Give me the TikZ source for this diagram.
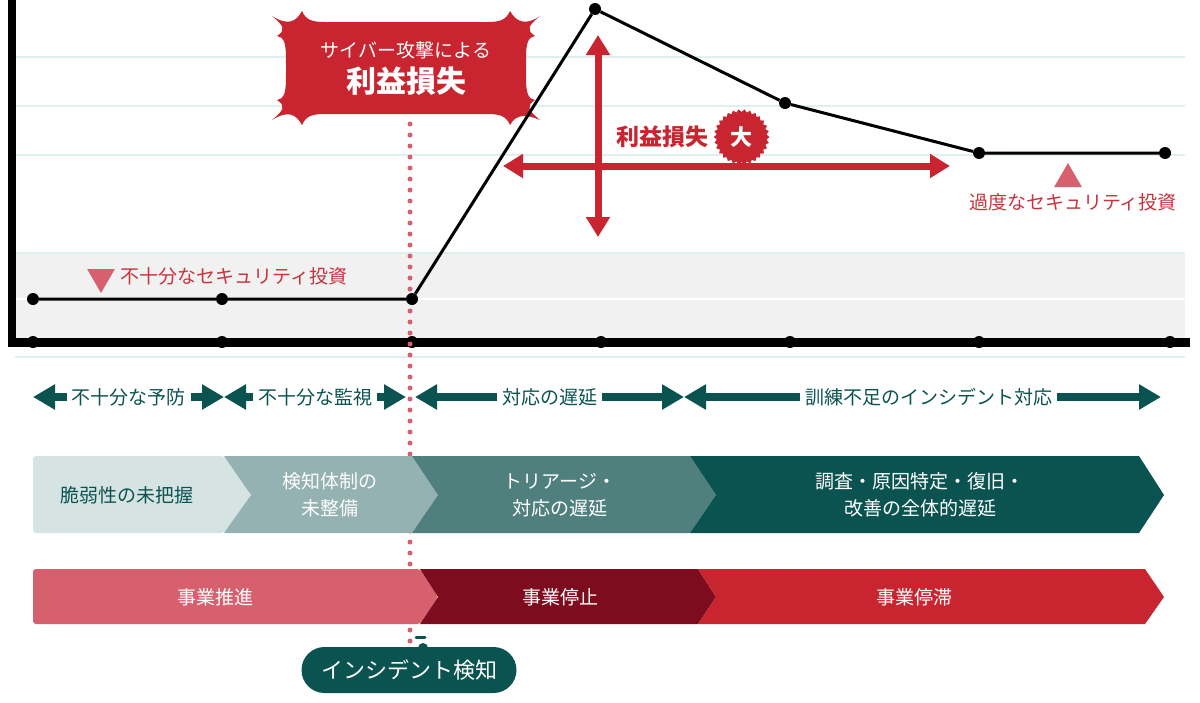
\documentclass[tikz,border=0pt]{standalone}
\usepackage{fontspec}
\setmainfont{Noto Sans CJK JP}
\usetikzlibrary{arrows.meta,shapes.geometric,positioning}

\definecolor{lossRed}{RGB}{200,37,48}
\definecolor{lossPink}{RGB}{215,96,110}
\definecolor{stopRed}{RGB}{126,12,31}
\definecolor{labelRed}{RGB}{200,52,62}
\definecolor{tealDark}{RGB}{11,83,81}
\definecolor{tealMid}{RGB}{79,128,126}
\definecolor{tealSoft}{RGB}{148,178,177}
\definecolor{tealPale}{RGB}{214,227,227}
\definecolor{gridCyan}{RGB}{222,240,240}
\definecolor{bandGray}{RGB}{241,241,241}

\begin{document}
\begin{tikzpicture}[x=1pt, y=-1pt, font=\fontsize{19}{27}\selectfont]
\tikzstyle{dot} = [circle, fill=black, inner sep=0pt, minimum size=12pt]
\tikzstyle{phaseArrow} = [draw=tealDark, line width=8pt, {Triangle[length=22pt,width=24pt]}-{Triangle[length=22pt,width=24pt]}]
\tikzstyle{phaseLabel} = [fill=white, text=tealDark, inner xsep=5pt]
\tikzstyle{lossArrow} = [draw=lossRed, line width=7pt, {Triangle[length=20pt,width=23pt]}-{Triangle[length=20pt,width=23pt]}]
\tikzstyle{chevText} = [text=white, align=center]
\tikzstyle{marker} = [regular polygon, regular polygon sides=3, fill=lossPink, minimum size=32pt, inner sep=0pt]

\useasboundingbox (0,0) rectangle (1200,702);

% Chart background
\fill[bandGray] (15,253) rectangle (1185,343);
\foreach \y in {57,106,155,253,357}
  \draw[gridCyan, line width=2pt] (15,\y) -- (1185,\y);
\draw[white, line width=2pt] (15,299) -- (1185,299);

% Axes
\draw[line width=8pt] (12,0) -- (12,346.5);
\draw[line width=9pt] (8,342) -- (1190,342);
\foreach \x [count=\i] in {33,222,412,601,790,979,1170}
  \node[dot] (tick\i) at (\x,342) {};

% Incident line
\coordinate (lineTop) at (410,124);
\coordinate (lineBottom) at (410,648);
\draw[lossPink, line width=5pt, line cap=round, dash pattern=on 0pt off 11pt] (lineTop) -- (lineBottom);

% Burst label
\fill[lossRed] (272,16) .. controls (288,26) and (296,22) .. (302,11)
  .. controls (306,20) and (312,22) .. (325,22) -- (487,22)
  .. controls (500,22) and (506,20) .. (510,11)
  .. controls (516,22) and (526,26) .. (540,16)
  .. controls (528,26) and (526,30) .. (535,36)
  .. controls (526,38) and (526,45) .. (526,68)
  .. controls (526,91) and (526,98) .. (535,100)
  .. controls (526,106) and (528,110) .. (540,120)
  .. controls (526,114) and (516,114) .. (510,125)
  .. controls (506,116) and (500,114) .. (487,114) -- (325,114)
  .. controls (312,114) and (306,116) .. (302,125)
  .. controls (296,114) and (288,110) .. (272,120)
  .. controls (284,110) and (286,106) .. (277,100)
  .. controls (286,98) and (286,91) .. (286,68)
  .. controls (286,45) and (286,38) .. (277,36)
  .. controls (286,30) and (284,26) .. (272,16) -- cycle;
\node[text=white] (burstTop) at (406,50) {サイバー攻撃による};
\node[text=white, font=\bfseries\fontsize{30}{30}\selectfont] (burstMain) at (406,81) {利益損失};

% Loss arrows
\coordinate (lossTop) at (598,35);
\coordinate (lossBottom) at (598,237);
\coordinate (lossLeft) at (503,166);
\coordinate (lossRight) at (950,166);
\draw[lossArrow] (lossLeft) -- (lossRight);
\draw[lossArrow] (lossTop) -- (lossBottom);
\node[text=lossRed, font=\bfseries\fontsize{23}{23}\selectfont] (lossText) at (662,137) {利益損失};
\node[star, star points=30, star point ratio=0.9, fill=lossRed, minimum size=50pt, inner sep=0pt,
  text=white, font=\bfseries\fontsize{22}{22}\selectfont, right=2pt of lossText] (lossSeal) {大};

% Chart line
\node[dot] (c1) at (33,299) {};
\node[dot] (c2) at (222,299) {};
\node[dot] (c3) at (412,299) {};
\node[dot] (c4) at (595,9) {};
\node[dot] (c5) at (785,103) {};
\node[dot] (c6) at (979,153) {};
\node[dot] (c7) at (1165,153) {};
\draw[line width=3pt] (c1) -- (c2) -- (c3) -- (c4) -- (c5) -- (c6) -- (c7);

% Investment markers
\node[marker, shape border rotate=180] (lowMark) at (101,277) {};
\node[text=labelRed, anchor=west] (lowText) at (117,276) {不十分なセキュリティ投資};
\node[marker] (highMark) at (1068,179) {};
\node[text=labelRed, below=3pt of highMark, xshift=5pt] (highText) {過度なセキュリティ投資};

% Phase arrows
\coordinate (pa) at (33,397);
\coordinate (pb) at (224,397);
\coordinate (pc) at (406,397);
\coordinate (pd) at (415,397);
\coordinate (pe) at (684,397);
\coordinate (pf) at (1161,397);
\draw[phaseArrow] (pa) -- node[phaseLabel] (preventLabel) {不十分な予防} (pb);
\draw[phaseArrow] (pb) -- node[phaseLabel] (monitorLabel) {不十分な監視} (pc);
\draw[phaseArrow] (pd) -- node[phaseLabel] (delayLabel) {対応の遅延} (pe);
\draw[phaseArrow] (pe) -- node[phaseLabel, xshift=6pt] (trainLabel) {訓練不足のインシデント対応} (pf);

% Response chevrons
\fill[tealPale, rounded corners=3pt] (33,456) -- (224,456) -- (251,495) -- (224,533) -- (33,533) -- cycle;
\fill[tealSoft] (224,456) -- (412,456) -- (438,495) -- (412,533) -- (224,533) -- (251,495) -- cycle;
\fill[tealMid] (412,456) -- (690,456) -- (716,495) -- (690,533) -- (412,533) -- (438,495) -- cycle;
\fill[tealDark] (690,456) -- (1139,456) -- (1164,495) -- (1139,533) -- (690,533) -- (716,495) -- cycle;
\node[chevText, text=tealDark] (gapNode) at (127,495) {脆弱性の未把握};
\node[chevText] (detectNode) at (330,495) {検知体制の\\未整備};
\node[chevText] (triageNode) at (560,495) {トリアージ・\\対応の遅延};
\node[chevText] (recoverNode) at (920,495) {調査・原因特定・復旧・\\改善の全体的遅延};

% Business chevrons
\fill[lossPink, rounded corners=3pt] (33,569) -- (420,569) -- (438,597) -- (420,624) -- (33,624) -- cycle;
\fill[stopRed] (420,569) -- (698,569) -- (716,597) -- (698,624) -- (420,624) -- (438,597) -- cycle;
\fill[lossRed] (698,569) -- (1145,569) -- (1164,597) -- (1145,624) -- (698,624) -- (716,597) -- cycle;
\node[chevText] (pushNode) at (215,597) {事業推進};
\node[chevText] (stopNode) at (560,597) {事業停止};
\node[chevText] (stallNode) at (914,597) {事業停滞};

% Incident detection
\draw[tealDark, line width=3pt, line cap=round] (416,637) -- (425,637);
\fill[tealDark] (423,648) circle (5pt);
\node[fill=tealDark, text=white, rounded corners=23pt, minimum width=215pt, minimum height=46pt,
  font=\fontsize{22}{22}\selectfont] (incidentNode) at (409,670) {インシデント検知};

\end{tikzpicture}
\end{document}
